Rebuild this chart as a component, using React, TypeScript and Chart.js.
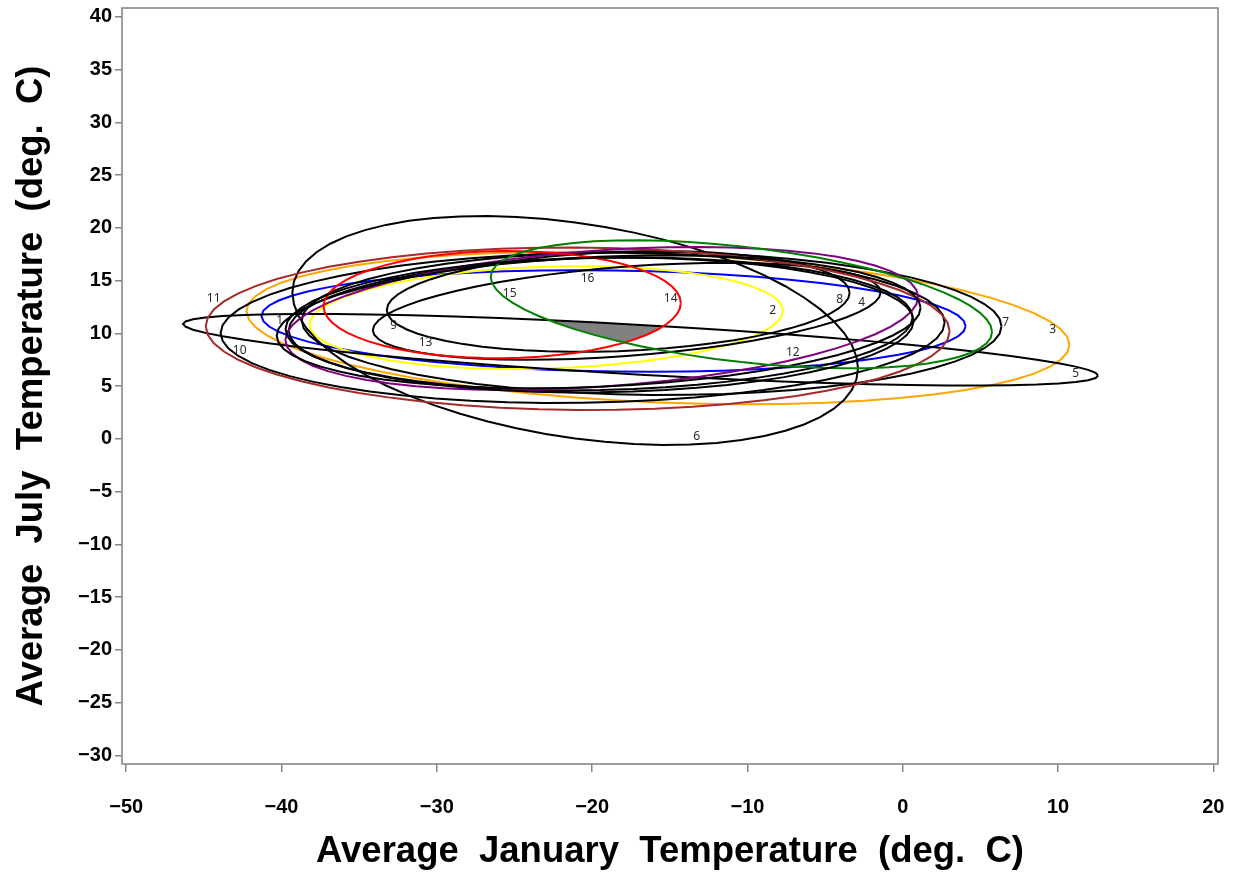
import React, { useEffect, useRef } from "react";
import { Chart, registerables } from "chart.js";

Chart.register(...registerables);

// ---- data ----
const ellipseIds = [1, 2, 3, 4, 5, 6, 7, 8, 9, 10, 11, 12, 13, 14, 15, 16];
const ellipseColors = [
  "#0000FF", "#FFFF00", "#FFA500", "#000000", "#000000", "#000000", "#000000", "#000000",
  "#000000", "#000000", "#A52A2A", "#800080", "#000000", "#FF0000", "#008000", "#000000",
];
// centre (mean January, mean July temperature)
const centerX = [-18.62, -22.95, -15.76, -17.77, -16.88, -21.09, -16.17, -18.32, -19.45, -20.61, -20.93, -19.38, -19.58, -25.79, -10.39, -19.52];
const centerY = [11.18, 11.5, 10.51, 12.1, 8.45, 10.28, 10.95, 13.03, 10.9, 10.53, 10.44, 11.42, 11.1, 12.73, 12.76, 10.8];
// half extents along x and y, and correlation (tilt)
const spreadX = [22.67, 15.24, 26.5, 16.35, 29.46, 18.21, 22.53, 14.9, 20.09, 23.31, 23.95, 20.37, 20.73, 11.5, 16.14, 20.22];
const spreadY = [4.82, 4.87, 7.23, 4.6, 3.4, 10.85, 6.79, 4.78, 6.3, 7.12, 7.7, 6.78, 6.3, 5.08, 6.07, 6.4];
const corr = [-0.1, 0.135, -0.22, 0.39, -0.72, -0.33, -0.04, 0.17, 0.1, 0.07, -0.03, 0.3, 0.21, 0.03, -0.43, 0.06];
// label anchors (data units)
const labelX = [-40.12, -8.37, 9.66, -2.64, 11.14, -13.27, 6.63, -4.06, -32.78, -42.69, -44.37, -7.08, -30.72, -14.94, -25.31, -20.29];
const labelY = [11.19, 12.14, 10.33, 12.92, 6.16, 0.18, 11.0, 13.18, 10.71, 8.34, 13.28, 8.15, 9.1, 13.28, 13.75, 15.17];

const xTicks = [-50, -40, -30, -20, -10, 0, 10, 20];
const yTicks = [-30, -25, -20, -15, -10, -5, 0, 5, 10, 15, 20, 25, 30, 35, 40];
const xRange = [-50.27, 20.3];
const yRange = [-30.82, 40.85];

const xTitle = "Average  January  Temperature  (deg.  C)";
const yTitle = "Average  July  Temperature  (deg.  C)";

type P = { x: number; y: number };
const SEG = 60;

function outline(i: number): P[] {
  const pts: P[] = [];
  const r = corr[i];
  const s = Math.sqrt(1 - r * r);
  for (let k = 0; k < SEG; k++) {
    const t = (2 * Math.PI * k) / SEG;
    const c = Math.cos(t);
    const sn = Math.sin(t);
    pts.push({ x: centerX[i] + spreadX[i] * c, y: centerY[i] + spreadY[i] * (r * c + s * sn) });
  }
  return pts;
}

function clipConvex(subject: P[], clip: P[]): P[] {
  let out = subject;
  for (let i = 0; i < clip.length; i++) {
    if (!out.length) break;
    const a = clip[i];
    const b = clip[(i + 1) % clip.length];
    const side = (p: P) => (b.x - a.x) * (p.y - a.y) - (b.y - a.y) * (p.x - a.x);
    const input = out;
    out = [];
    for (let j = 0; j < input.length; j++) {
      const cur = input[j];
      const prev = input[(j + input.length - 1) % input.length];
      const dc = side(cur);
      const dp = side(prev);
      const hit = () => {
        const t = dp / (dp - dc);
        return { x: prev.x + t * (cur.x - prev.x), y: prev.y + t * (cur.y - prev.y) };
      };
      if (dc >= 0) {
        if (dp < 0) out.push(hit());
        out.push(cur);
      } else if (dp >= 0) {
        out.push(hit());
      }
    }
  }
  return out;
}

const fmt = (v: number) => (v < 0 ? "\u2212" + Math.abs(v) : String(v));

export default function App() {
  const ref = useRef<HTMLCanvasElement | null>(null);

  useEffect(() => {
    document.body.style.margin = "0";
    const canvas = ref.current;
    if (!canvas) return;

    const shapes = ellipseIds.map((_, i) => outline(i));
    let common = shapes[0];
    for (let i = 1; i < shapes.length; i++) common = clipConvex(common, shapes[i]);

    const datasets: any[] = shapes.map((pts, i) => ({
      label: String(ellipseIds[i]),
      data: [...pts, pts[0]],
      showLine: true,
      borderColor: ellipseColors[i],
      borderWidth: 2,
      pointRadius: 0,
      tension: 0,
      fill: false,
      order: 16 - i,
    }));
    if (common.length > 2) {
      datasets.push({
        label: "common",
        data: [...common, common[0]],
        showLine: true,
        borderWidth: 0,
        borderColor: "rgba(0,0,0,0)",
        backgroundColor: "#808080",
        pointRadius: 0,
        tension: 0,
        fill: "shape",
        order: 100,
      });
    }

    const framePlugin = {
      id: "frame",
      afterDatasetsDraw(chart: any) {
        const { ctx, chartArea: a } = chart;
        ctx.save();
        ctx.strokeStyle = "#888888";
        ctx.lineWidth = 1.6;
        ctx.strokeRect(a.left, a.top, a.right - a.left, a.bottom - a.top);
        ctx.restore();
      },
    };

    const labelPlugin = {
      id: "ellipseLabels",
      afterDatasetsDraw(chart: any) {
        const { ctx, scales } = chart;
        ctx.save();
        ctx.font = '12px "Noto Sans", "DejaVu Sans", sans-serif';
        ctx.fillStyle = "#2b2b2b";
        ctx.textAlign = "center";
        ctx.textBaseline = "middle";
        ellipseIds.forEach((id, i) => {
          ctx.fillText(String(id), scales.x.getPixelForValue(labelX[i]), scales.y.getPixelForValue(labelY[i]));
        });
        ctx.restore();
      },
    };

    const tickFont = { family: '"Liberation Sans", Arial, sans-serif', size: 20, weight: "bold" as const };
    const titleFont = { family: '"Liberation Sans", Arial, sans-serif', size: 36.5, weight: "bold" as const };

    const chart = new Chart(canvas, {
      type: "scatter",
      data: { datasets },
      options: {
        animation: false,
        responsive: false,
        maintainAspectRatio: false,
        devicePixelRatio: 1,
        events: [],
        layout: { padding: { top: 8, right: 15, left: 0, bottom: 0 } },
        plugins: { legend: { display: false }, tooltip: { enabled: false } },
        scales: {
          x: {
            type: "linear",
            min: xRange[0],
            max: xRange[1],
            afterBuildTicks: (s: any) => {
              s.ticks = xTicks.map((v) => ({ value: v }));
            },
            afterFit: (s: any) => {
              s.height = 112;
              s.paddingLeft = 0;
              s.paddingRight = 0;
              s.paddingTop = 0;
              s.paddingBottom = 0;
            },
            grid: { display: true, drawOnChartArea: false, drawTicks: true, tickLength: 8, color: "#888888", lineWidth: 1.5 },
            border: { display: false },
            ticks: { color: "#000", font: tickFont, padding: 23, maxRotation: 0, autoSkip: false, callback: (v: any) => fmt(Number(v)) },
            title: { display: true, text: xTitle, color: "#000", font: titleFont, padding: { top: 0, bottom: 2 } },
          },
          y: {
            type: "linear",
            min: yRange[0],
            max: yRange[1],
            afterBuildTicks: (s: any) => {
              s.ticks = yTicks.map((v) => ({ value: v }));
            },
            afterFit: (s: any) => {
              s.width = 122;
              s.paddingLeft = 0;
              s.paddingRight = 0;
              s.paddingTop = 0;
              s.paddingBottom = 0;
            },
            grid: { display: true, drawOnChartArea: false, drawTicks: true, tickLength: 7, color: "#888888", lineWidth: 1.5 },
            border: { display: false },
            ticks: { color: "#000", font: tickFont, padding: 3, autoSkip: false, callback: (v: any) => fmt(Number(v)) },
            title: { display: true, text: yTitle, color: "#000", font: titleFont, padding: { top: 10, bottom: 0 } },
          },
        },
      },
      plugins: [framePlugin, labelPlugin],
    });

    return () => chart.destroy();
  }, []);

  return (
    <div style={{ width: 1233, height: 876, background: "#fff" }}>
      <canvas ref={ref} width={1233} height={876} style={{ display: "block" }} />
    </div>
  );
}
